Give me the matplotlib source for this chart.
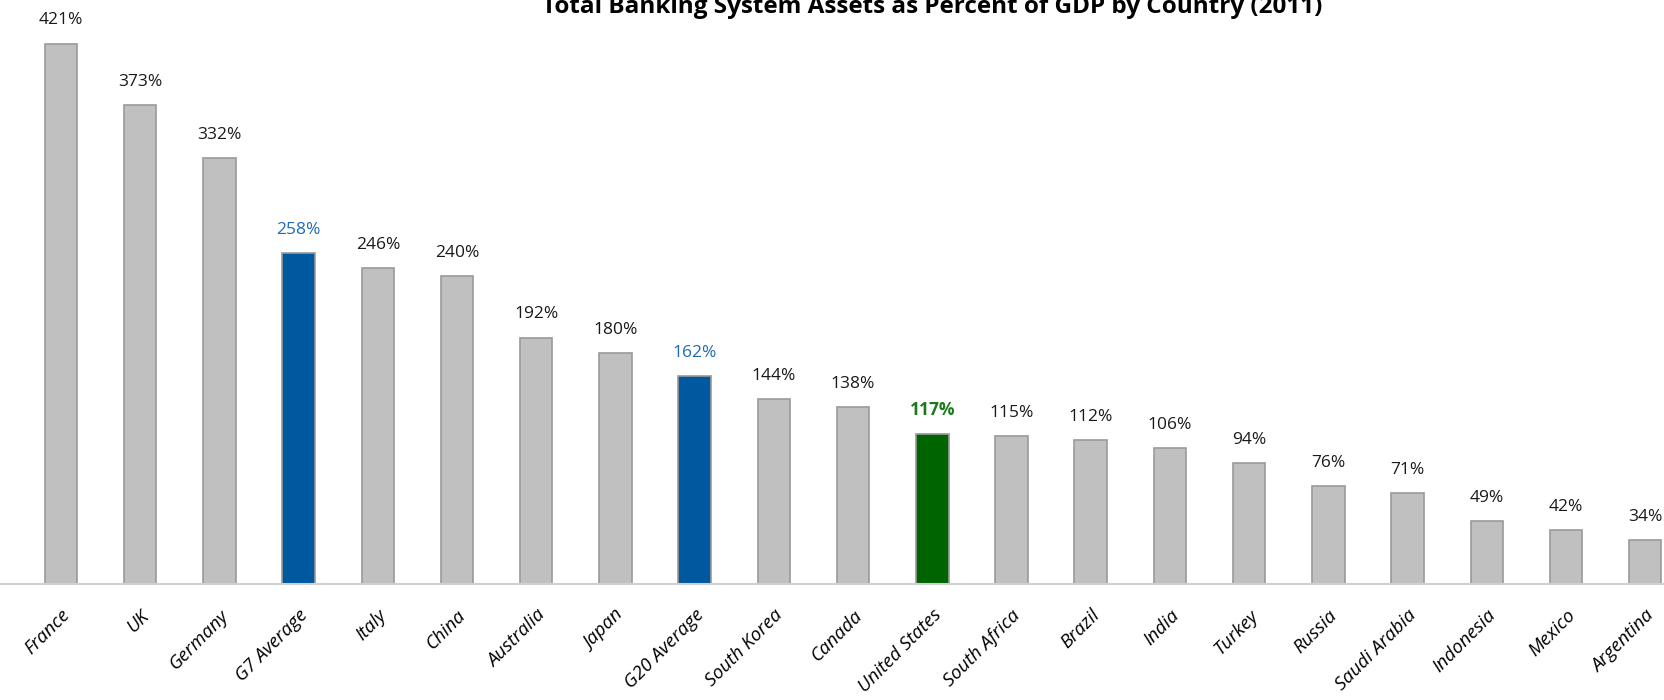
import matplotlib.pyplot as plt
import numpy as np

countries = ['France', 'UK', 'Germany', 'G7 Average', 'Italy', 'China', 'Australia',
             'Japan', 'G20 Average', 'South Korea', 'Canada', 'United States',
             'South Africa', 'Brazil', 'India', 'Turkey', 'Russia', 'Saudi Arabia',
             'Indonesia', 'Mexico', 'Argentina']
assets_pct = [421, 373, 332, 258, 246, 240, 192, 180, 162, 144, 138, 117,
              115, 112, 106, 94, 76, 71, 49, 42, 34]

grey = '#c0c0c0'
blue = '#00589f'
green = '#006400'
fill = []
label_color = []
for c in countries:
    if 'Average' in c:
        fill.append(blue); label_color.append('#1f6bb5')
    elif c == 'United States':
        fill.append(green); label_color.append('#1a7a1a')
    else:
        fill.append(grey); label_color.append('#1a1a1a')

fig = plt.figure(figsize=(16.65, 7), dpi=100)
ax = fig.add_axes([0, 0.1657, 1, 0.8343])

x = np.arange(len(countries))
ax.bar(x, assets_pct, width=0.41, color=fill, edgecolor='#9a9a9a', linewidth=1.2, zorder=2)

for xi, v, c, name in zip(x, assets_pct, label_color, countries):
    ax.annotate(f'{v}%', (xi, v), xytext=(0, 11), textcoords='offset points',
                ha='center', va='bottom', fontsize=12.5, color=c, family='Open Sans',
                fontweight='bold' if name == 'United States' else 'normal')

ax.set_xlim(-0.77, 20.25)
ax.set_ylim(0, 455)
ax.set_yticks([])
ax.set_xticks(x)
ax.set_xticklabels(countries, rotation=45, ha='right', rotation_mode='anchor',
                   fontsize=13.5, style='italic', family='Open Sans')
ax.tick_params(axis='x', length=0, pad=16)
for s in ['top', 'right', 'left']:
    ax.spines[s].set_visible(False)
ax.spines['bottom'].set_color('#d0d0d0')
ax.spines['bottom'].set_linewidth(1.5)

fig.text(0.560, 0.990, 'Total Banking System Assets as Percent of GDP by Country (2011)',
         ha='center', va='center', fontsize=17.5, fontweight='bold', family='Open Sans')

fig.savefig('out.png', dpi=100)
